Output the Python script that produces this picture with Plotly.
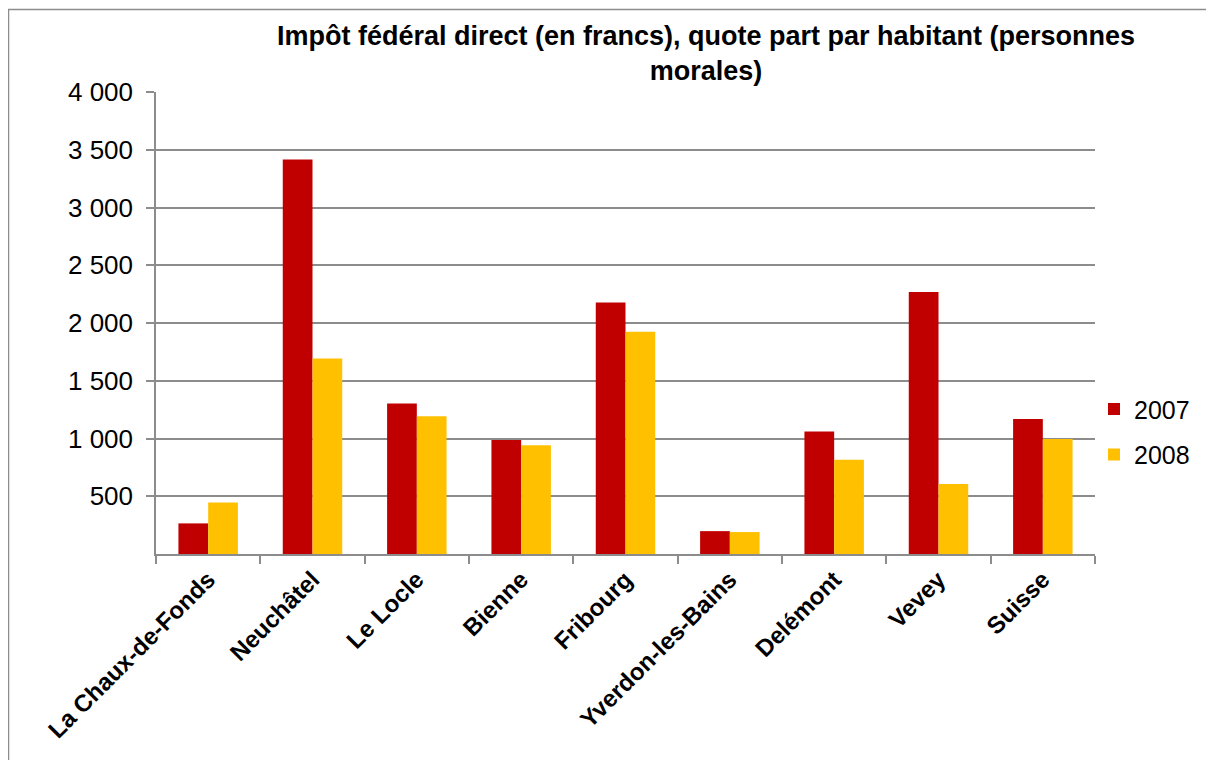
import plotly.graph_objects as go

# communes / values (francs per inhabitant)
communes = ["La Chaux-de-Fonds", "Neuchâtel", "Le Locle", "Bienne", "Fribourg",
            "Yverdon-les-Bains", "Delémont", "Vevey", "Suisse"]
impot_2007 = [265, 3415, 1303, 986, 2178, 198, 1061, 2268, 1168]
impot_2008 = [445, 1693, 1192, 941, 1924, 190, 815, 607, 995]

y_ticks = [500, 1000, 1500, 2000, 2500, 3000, 3500, 4000]
y_tick_labels = ["500", "1 000", "1 500", "2 000", "2 500", "3 000", "3 500", "4 000"]

FONT = "Liberation Sans, Arial, sans-serif"
GRID = "#8c8c8c"

# the page body adds an 8px margin, so the figure is drawn 8px in
OFF = 8
W, H = 1214 - OFF, 760 - OFF
# plot area, in page pixels
X0, X1, Y_TOP, Y_ZERO = 156, 1095, 92, 553.7
L, R, T = X0 - OFF, W - (X1 - OFF), Y_TOP - OFF
B = H - (Y_ZERO - OFF)
pw, ph = X1 - X0, Y_ZERO - Y_TOP


def px_x(x):
    return (x - X0) / pw


def px_y(y):
    return (Y_ZERO - y) / ph


def main():
    fig = go.Figure()

    fig.add_trace(go.Bar(x=communes, y=impot_2007, name="2007",
                         marker=dict(color="#C00000", line=dict(width=0)),
                         legendgroup="a"))
    fig.add_trace(go.Bar(x=communes, y=impot_2008, name="2008",
                         marker=dict(color="#FFC000", line=dict(width=0)),
                         legendgroup="b"))

    fig.update_layout(
        width=W, height=H,
        margin=dict(l=L, r=R, t=T, b=B, autoexpand=False),
        paper_bgcolor="white", plot_bgcolor="white",
        font=dict(family=FONT, color="black"),
        separators=", ",
        barmode="group",
        bargap=0.43,
        bargroupgap=0,
        title=dict(
            text="<b>Impôt fédéral direct (en francs), quote part par habitant (personnes<br>morales)</b>",
            font=dict(size=27, family=FONT),
            xref="paper", x=px_x(706), xanchor="center",
            yref="container", y=1 - 37 / H, yanchor="top",
        ),
        legend=dict(
            x=px_x(1094), y=px_y(386), xanchor="left", yanchor="top",
            font=dict(size=25, family=FONT),
            traceorder="grouped", tracegroupgap=10,
            bgcolor="rgba(0,0,0,0)",
        ),
        showlegend=True,
    )

    fig.update_xaxes(
        tickangle=-45,
        tickfont=dict(size=24, family="Liberation Sans, Arial", weight="bold"),
        showline=True, linecolor=GRID, linewidth=2,
        ticks="outside", tickson="boundaries", ticklen=8, tickcolor=GRID, tickwidth=2,
        showgrid=False,
    )
    fig.update_yaxes(
        range=[0, 4000],
        tickvals=y_ticks, ticktext=y_tick_labels,
        tickfont=dict(size=26, family=FONT),
        showgrid=True, gridcolor=GRID, gridwidth=1.5,
        showline=True, linecolor=GRID, linewidth=1.5,
        ticks="outside", ticklen=8, tickcolor=GRID, tickwidth=1.5,
        ticklabelstandoff=8,
        zeroline=False,
    )

    # outer chart frame
    fig.add_shape(type="rect", xref="paper", yref="paper",
                  x0=px_x(8.5), x1=px_x(1209), y0=px_y(800), y1=px_y(9.5),
                  line=dict(color="#8c8c8c", width=1.5), layer="below")

    fig.write_html("out.html")


if __name__ == "__main__":
    main()
